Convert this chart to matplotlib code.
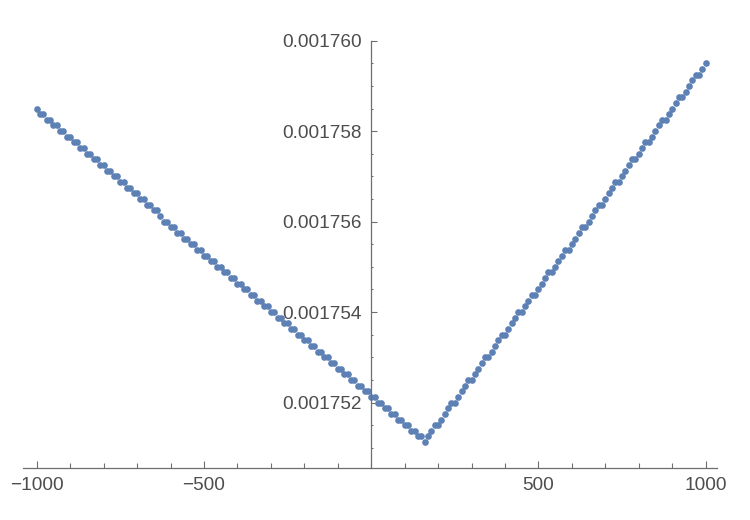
import numpy as np
import matplotlib.pyplot as plt
from matplotlib.ticker import MultipleLocator, FormatStrFormatter

# sample positions
x_vals = [
    -1000, -990, -980, -970, -960, -950, -940, -930, -920, -910, -900, -890, -880, -870, -860, -850, -840, -830, -820, -810,
    -800, -790, -780, -770, -760, -750, -740, -730, -720, -710, -700, -690, -680, -670, -660, -650, -640, -630, -620, -610,
    -600, -590, -580, -570, -560, -550, -540, -530, -520, -510, -500, -490, -480, -470, -460, -450, -440, -430, -420, -410,
    -400, -390, -380, -370, -360, -350, -340, -330, -320, -310, -300, -290, -280, -270, -260, -250, -240, -230, -220, -210,
    -200, -190, -180, -170, -160, -150, -140, -130, -120, -110, -100, -90, -80, -70, -60, -50, -40, -30, -20, -10,
    0, 10, 20, 30, 40, 50, 60, 70, 80, 90, 100, 110, 120, 130, 140, 150, 160, 170, 180, 190,
    200, 210, 220, 230, 240, 250, 260, 270, 280, 290, 300, 310, 320, 330, 340, 350, 360, 370, 380, 390,
    400, 410, 420, 430, 440, 450, 460, 470, 480, 490, 500, 510, 520, 530, 540, 550, 560, 570, 580, 590,
    600, 610, 620, 630, 640, 650, 660, 670, 680, 690, 700, 710, 720, 730, 740, 750, 760, 770, 780, 790,
    800, 810, 820, 830, 840, 850, 860, 870, 880, 890, 900, 910, 920, 930, 940, 950, 960, 970, 980, 990,
    1000,
]

# values as offset from 0.00175, in units of 1e-9
y_offset = [
    8500, 8375, 8375, 8250, 8250, 8125, 8125, 8000, 8000, 7875, 7875, 7750, 7750, 7625, 7625, 7500, 7500, 7375, 7375, 7250,
    7250, 7125, 7125, 7000, 7000, 6875, 6875, 6750, 6750, 6625, 6625, 6500, 6500, 6375, 6375, 6250, 6250, 6125, 6000, 6000,
    5875, 5875, 5750, 5750, 5625, 5625, 5500, 5500, 5375, 5375, 5250, 5250, 5125, 5125, 5000, 5000, 4875, 4875, 4750, 4750,
    4625, 4625, 4500, 4500, 4375, 4375, 4250, 4250, 4125, 4125, 4000, 4000, 3875, 3875, 3750, 3750, 3625, 3625, 3500, 3500,
    3375, 3375, 3250, 3250, 3125, 3125, 3000, 3000, 2875, 2875, 2750, 2750, 2625, 2625, 2500, 2500, 2375, 2375, 2250, 2250,
    2125, 2125, 2000, 2000, 1875, 1875, 1750, 1750, 1625, 1625, 1500, 1500, 1375, 1375, 1250, 1250, 1125, 1250, 1375, 1500,
    1500, 1625, 1750, 1875, 2000, 2000, 2125, 2250, 2375, 2500, 2500, 2625, 2750, 2875, 3000, 3000, 3125, 3250, 3375, 3500,
    3500, 3625, 3750, 3875, 4000, 4000, 4125, 4250, 4375, 4375, 4500, 4625, 4750, 4875, 4875, 5000, 5125, 5250, 5375, 5375,
    5500, 5625, 5750, 5875, 5875, 6000, 6125, 6250, 6375, 6375, 6500, 6625, 6750, 6875, 6875, 7000, 7125, 7250, 7375, 7375,
    7500, 7625, 7750, 7750, 7875, 8000, 8125, 8250, 8250, 8375, 8500, 8625, 8750, 8750, 8875, 9000, 9125, 9250, 9250, 9375,
    9500,
]

y_base = 0.00175
y_vals = y_base + np.array(y_offset) * 1e-9

x_major = [-1000, -500, 500, 1000]
y_major = [0.001752, 0.001754, 0.001756, 0.001758, 0.001760]

plt.rcParams['font.family'] = ['Liberation Sans', 'DejaVu Sans']

fig = plt.figure(figsize=(7.5, 5.2), dpi=100)
ax = fig.add_axes([0.0307, 0.1006, 0.9249, 0.8212])

ax.plot(x_vals, y_vals, 'o', color='#5e81b5', markersize=4.8, markeredgewidth=0)

ax.set_xlim(-1041, 1033)
ax.set_ylim(0.00175056, 0.001760)

# axes through the origin, like Mathematica
axis_col = '#6e6e6e'
ax.spines['left'].set_position(('data', 0))
ax.spines['right'].set_color('none')
ax.spines['top'].set_color('none')
ax.spines['left'].set_color(axis_col)
ax.spines['bottom'].set_color(axis_col)
ax.spines['left'].set_linewidth(0.9)
ax.spines['bottom'].set_linewidth(0.9)

ax.set_xticks(x_major)
ax.xaxis.set_minor_locator(MultipleLocator(100))
ax.set_yticks(y_major)
ax.yaxis.set_minor_locator(MultipleLocator(0.0000005))
ax.yaxis.set_major_formatter(FormatStrFormatter('%.6f'))
ax.set_xticklabels(['\u22121000', '\u2212500', '500', '1000'])

ax.tick_params(axis='x', which='major', direction='in', length=5, width=0.8,
               color=axis_col, labelcolor='#4d4d4d', labelsize=13.7, pad=7)
ax.tick_params(axis='x', which='minor', direction='in', length=3.5, width=0.8, color=axis_col)
ax.tick_params(axis='y', which='major', direction='in', length=4, width=0.8,
               color=axis_col, labelcolor='#4d4d4d', labelsize=13.7, pad=7)
ax.tick_params(axis='y', which='minor', direction='in', length=1.5, width=0.8, color=axis_col)

fig.savefig('out.png', dpi=100)
